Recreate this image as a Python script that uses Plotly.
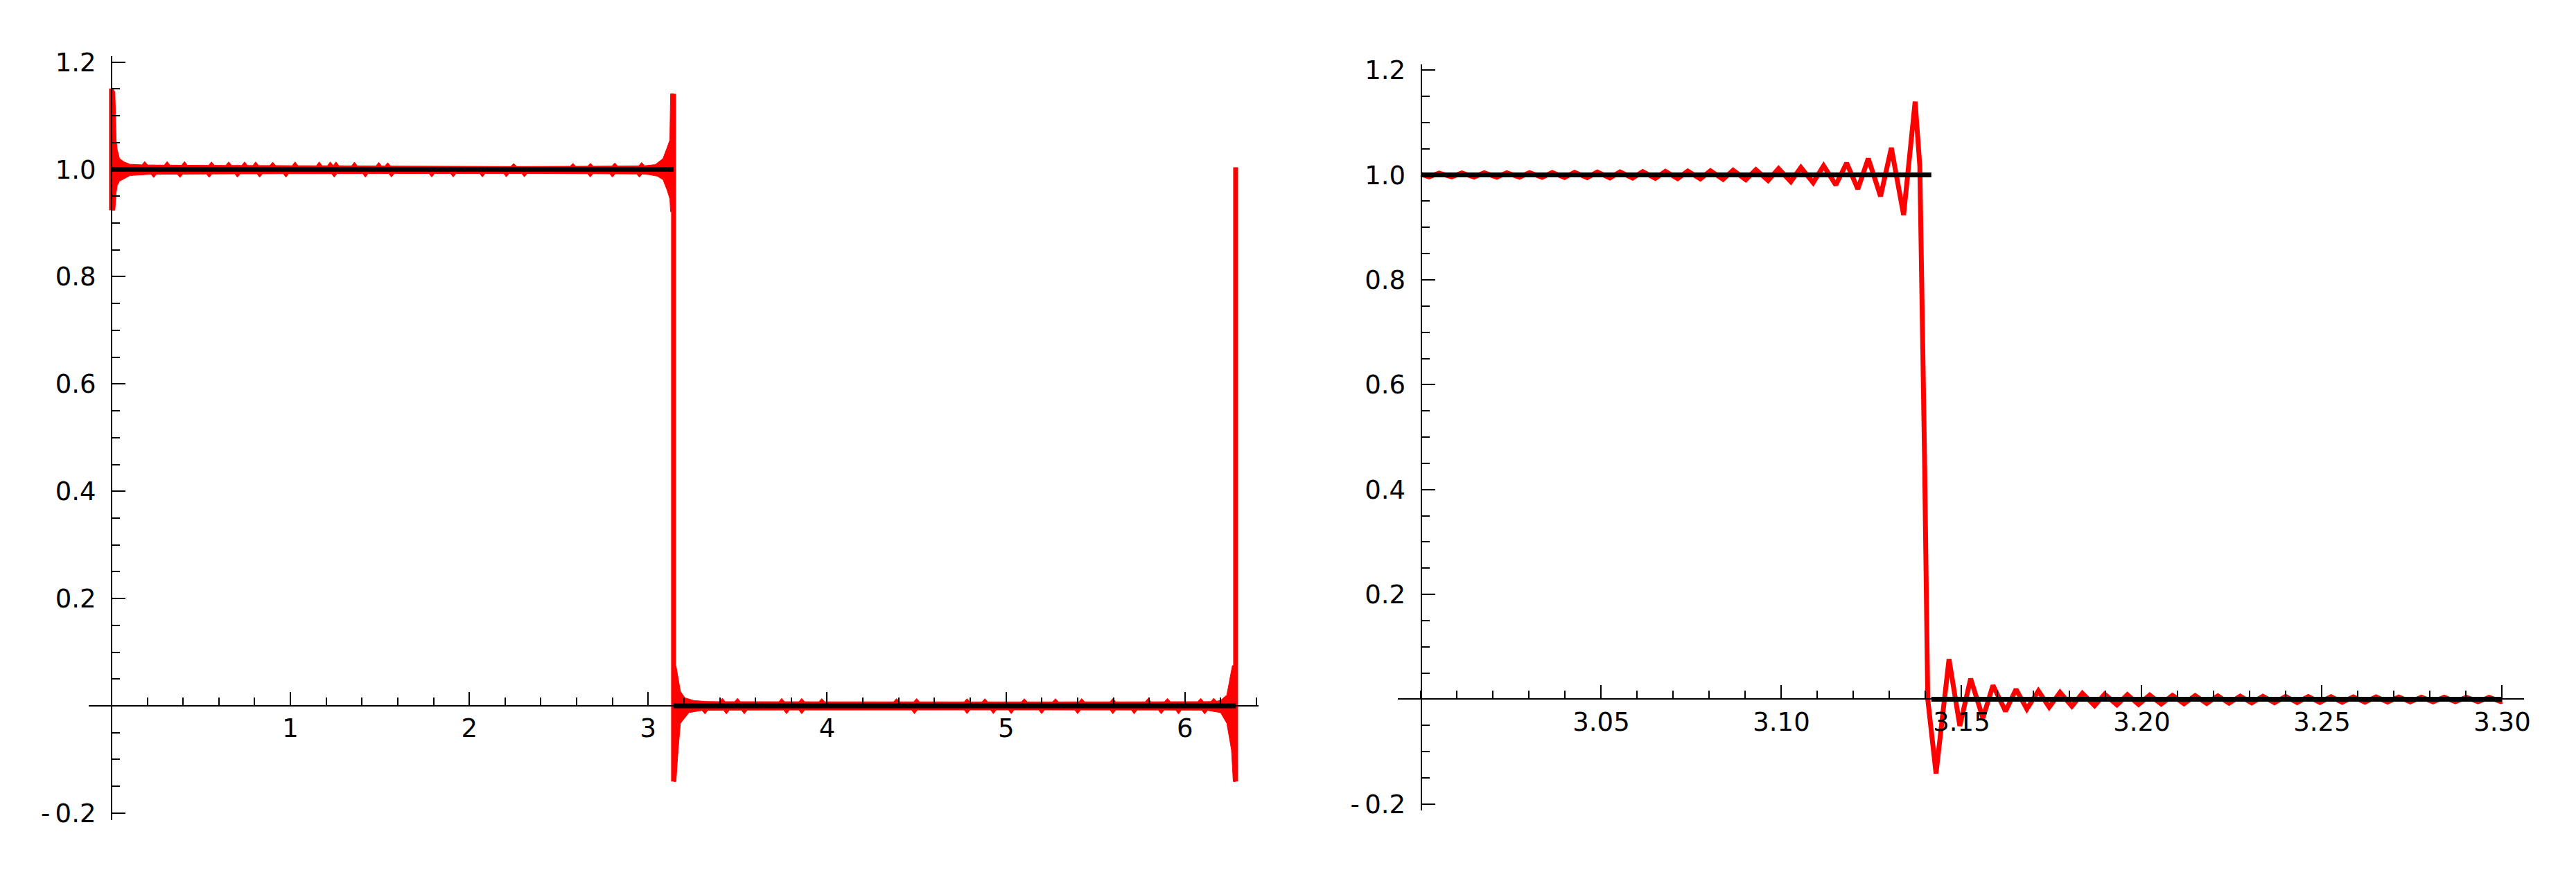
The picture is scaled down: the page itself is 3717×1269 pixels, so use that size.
import plotly.graph_objects as go

PI = 3.141592653589793
TWO_PI = 2 * PI

# ---------------- data: left panel (one full period) ----------------
# target square wave
step_x = [0.0, PI, None, PI, TWO_PI]
step_y = [1.0, 1.0, None, 0.0, 0.0]

# vertical strokes of the partial sum at the jumps (x = 0, pi, 2pi)
jump_x = [0.0, 0.0, None, PI, PI, None, TWO_PI, TWO_PI]
jump_y = [0.924, 1.151, None, 1.141, -0.141, None, 1.004, -0.141]

# band of fast ripples around y = 1 (outline: top edge left->right, bottom edge right->left)
hi_band_x = [0.000, 0.019, 0.026, 0.032, 0.045, 0.071, 0.103, 0.170, 0.186, 0.202,
             0.295, 0.311, 0.327, 0.392, 0.408, 0.424, 0.543, 0.559, 0.575, 0.639,
             0.655, 0.671, 0.728, 0.744, 0.760, 0.790, 0.806, 0.822, 0.885, 0.901,
             0.917, 1.010, 1.026, 1.042, 1.145, 1.161, 1.177, 1.207, 1.223, 1.239,
             1.255, 1.271, 1.342, 1.358, 1.374, 1.478, 1.494, 1.510, 1.528, 1.544,
             1.560, 2.232, 2.248, 2.264, 2.563, 2.579, 2.595, 2.661, 2.677, 2.693,
             2.797, 2.813, 2.829, 2.947, 2.963, 2.979, 3.040, 3.082, 3.105, 3.121,
             3.125, 3.142,
             3.142, 3.125, 3.121, 3.105, 3.082, 3.050, 3.000, 2.966, 2.951, 2.936,
             2.815, 2.800, 2.785, 2.691, 2.676, 2.661, 2.323, 2.308, 2.293, 2.222,
             2.207, 2.192, 2.088, 2.073, 2.058, 1.925, 1.910, 1.895, 1.805, 1.790,
             1.775, 1.580, 1.565, 1.550, 1.434, 1.419, 1.404, 1.260, 1.245, 1.230,
             0.990, 0.975, 0.960, 0.843, 0.828, 0.813, 0.719, 0.704, 0.689, 0.561,
             0.546, 0.531, 0.398, 0.383, 0.368, 0.251, 0.236, 0.221, 0.103, 0.071,
             0.045, 0.032, 0.026, 0.019, 0.000]
hi_band_y = [1.151, 1.145, 1.054, 1.037, 1.020, 1.014, 1.0096, 1.0085, 1.0147, 1.0083,
             1.0080, 1.0147, 1.0080, 1.0078, 1.0147, 1.0078, 1.0076, 1.0140, 1.0076, 1.0075,
             1.0140, 1.0075, 1.0074, 1.0140, 1.0074, 1.0073, 1.0140, 1.0073, 1.0072, 1.0135,
             1.0072, 1.0070, 1.0140, 1.0070, 1.0068, 1.0140, 1.0068, 1.0068, 1.0140, 1.0068,
             1.0140, 1.0068, 1.0066, 1.0135, 1.0066, 1.0064, 1.0130, 1.0064, 1.0062, 1.0125,
             1.0062, 1.0055, 1.0110, 1.0055, 1.0058, 1.0110, 1.0058, 1.0060, 1.0115, 1.0060,
             1.0062, 1.0120, 1.0062, 1.0066, 1.0130, 1.0068, 1.0090, 1.0200, 1.0400, 1.0550,
             1.1410, 1.1410,
             0.921, 0.921, 0.945, 0.962, 0.981, 0.9875, 0.9905, 0.9915, 0.9855, 0.9915,
             0.9918, 0.9858, 0.9918, 0.9920, 0.9860, 0.9920, 0.9925, 0.9862, 0.9925, 0.9925,
             0.9862, 0.9925, 0.9925, 0.9860, 0.9925, 0.9924, 0.9860, 0.9924, 0.9924, 0.9858,
             0.9924, 0.9923, 0.9858, 0.9923, 0.9922, 0.9856, 0.9922, 0.9921, 0.9856, 0.9921,
             0.9920, 0.9855, 0.9920, 0.9918, 0.9855, 0.9918, 0.9917, 0.9855, 0.9917, 0.9915,
             0.9852, 0.9915, 0.9912, 0.9850, 0.9912, 0.9910, 0.9848, 0.9910, 0.9886, 0.9830,
             0.9780, 0.9700, 0.9570, 0.9240, 0.9240]

# band of fast ripples around y = 0
lo_band_x = [3.142, 3.155, 3.180, 3.205, 3.254, 3.320, 3.398, 3.414, 3.430, 3.483,
             3.499, 3.515, 3.730, 3.746, 3.762, 3.842, 3.858, 3.874, 3.954, 3.970,
             3.986, 4.372, 4.388, 4.404, 4.484, 4.500, 4.516, 4.766, 4.782, 4.798,
             4.866, 4.882, 4.898, 5.086, 5.102, 5.118, 5.260, 5.276, 5.292, 5.407,
             5.423, 5.439, 5.581, 5.597, 5.613, 5.778, 5.794, 5.810, 5.886, 5.902,
             5.918, 6.072, 6.088, 6.104, 6.145, 6.161, 6.177, 6.199, 6.234, 6.265,
             6.283,
             6.283, 6.270, 6.260, 6.234, 6.199, 6.126, 6.110, 6.094, 5.980, 5.964,
             5.948, 5.883, 5.867, 5.851, 5.732, 5.716, 5.700, 5.613, 5.597, 5.581,
             5.416, 5.400, 5.384, 5.215, 5.199, 5.183, 5.045, 5.029, 5.013, 4.945,
             4.929, 4.913, 4.798, 4.782, 4.766, 4.504, 4.488, 4.472, 3.874, 3.858,
             3.842, 3.789, 3.773, 3.757, 3.553, 3.537, 3.521, 3.453, 3.437, 3.421,
             3.333, 3.317, 3.301, 3.228, 3.180, 3.167, 3.155, 3.142]
lo_band_y = [0.0750, 0.0750, 0.0270, 0.0150, 0.0100, 0.0082, 0.0078, 0.0140, 0.0078, 0.0078,
             0.0140, 0.0078, 0.0077, 0.0138, 0.0077, 0.0077, 0.0138, 0.0077, 0.0076, 0.0136,
             0.0076, 0.0075, 0.0135, 0.0075, 0.0075, 0.0135, 0.0075, 0.0074, 0.0134, 0.0074,
             0.0074, 0.0134, 0.0074, 0.0074, 0.0134, 0.0074, 0.0074, 0.0134, 0.0074, 0.0075,
             0.0135, 0.0075, 0.0075, 0.0136, 0.0075, 0.0076, 0.0137, 0.0076, 0.0077, 0.0138,
             0.0077, 0.0078, 0.0140, 0.0078, 0.0080, 0.0142, 0.0085, 0.0102, 0.0200, 0.0750,
             0.0750,
             -0.141, -0.141, -0.082, -0.0325, -0.0125, -0.0085, -0.0150, -0.0080, -0.0079, -0.0150,
             -0.0079, -0.0078, -0.0148, -0.0078, -0.0078, -0.0148, -0.0078, -0.0077, -0.0147, -0.0077,
             -0.0077, -0.0147, -0.0077, -0.0076, -0.0146, -0.0076, -0.0076, -0.0146, -0.0076, -0.0076,
             -0.0146, -0.0076, -0.0076, -0.0146, -0.0076, -0.0077, -0.0147, -0.0077, -0.0078, -0.0148,
             -0.0078, -0.0078, -0.0148, -0.0078, -0.0079, -0.0150, -0.0079, -0.0080, -0.0150, -0.0080,
             -0.0082, -0.0150, -0.0085, -0.0125, -0.0325, -0.0820, -0.1410, -0.1410]

# ---------------- data: right panel (zoom on the jump at pi) ----------------
zoom_step_x = [3.0, PI, None, PI, 3.30]
zoom_step_y = [1.0, 1.0, None, 0.0, 0.0]

zoom_x = [3.0000, 3.0022, 3.0050, 3.0085, 3.0113, 3.0147, 3.0175, 3.0210, 3.0238, 3.0273,
          3.0301, 3.0336, 3.0364, 3.0398, 3.0426, 3.0461, 3.0489, 3.0524, 3.0552, 3.0587,
          3.0615, 3.0650, 3.0678, 3.0712, 3.0740, 3.0775, 3.0803, 3.0838, 3.0866, 3.0901,
          3.0929, 3.0963, 3.0992, 3.1026, 3.1054, 3.1088, 3.1117, 3.1151, 3.1181, 3.1212,
          3.1241, 3.1275, 3.1305, 3.1339, 3.1371, 3.1384, 3.1397, 3.1406, 3.1429, 3.1465,
          3.1495, 3.1525, 3.1559, 3.1587, 3.1622, 3.1651, 3.1681, 3.1713, 3.1743, 3.1773,
          3.1806, 3.1835, 3.1869, 3.1897, 3.1931, 3.1960, 3.1991, 3.2022, 3.2054, 3.2085,
          3.2117, 3.2148, 3.2180, 3.2211, 3.2242, 3.2273, 3.2305, 3.2336, 3.2368, 3.2399,
          3.2431, 3.2462, 3.2494, 3.2525, 3.2556, 3.2587, 3.2619, 3.2650, 3.2682, 3.2713,
          3.2745, 3.2776, 3.2808, 3.2839, 3.2870, 3.2901, 3.2933, 3.2964, 3.2996, 3.3000]
zoom_y = [1.0015, 0.9966, 1.0036, 0.9964, 1.0038, 0.9962, 1.0040, 0.9960, 1.0042, 0.9958,
          1.0045, 0.9956, 1.0048, 0.9953, 1.0051, 0.9950, 1.0054, 0.9946, 1.0058, 0.9942,
          1.0063, 0.9937, 1.0068, 0.9932, 1.0074, 0.9926, 1.0081, 0.9919, 1.0089, 0.9910,
          1.0099, 0.9896, 1.0120, 0.9874, 1.0142, 0.9853, 1.0176, 0.9810, 1.0228, 0.9732,
          1.0315, 0.9593, 1.0518, 0.9236, 1.1400, 1.0170, 0.4650, 0.0000, -0.1417, 0.0764,
          -0.0510, 0.0392, -0.0359, 0.0263, -0.0230, 0.0190, -0.0186, 0.0160, -0.0152, 0.0130,
          -0.0134, 0.0112, -0.0121, 0.0095, -0.0108, 0.0086, -0.0100, 0.0079, -0.0092, 0.0073,
          -0.0086, 0.0068, -0.0080, 0.0063, -0.0075, 0.0059, -0.0070, 0.0055, -0.0066, 0.0052,
          -0.0063, 0.0049, -0.0060, 0.0047, -0.0057, 0.0045, -0.0055, 0.0043, -0.0053, 0.0041,
          -0.0051, 0.0039, -0.0049, 0.0037, -0.0047, 0.0036, -0.0046, 0.0035, -0.0045, -0.0040]

# ---------------- ticks ----------------
left_xtick_vals = [1, 2, 3, 4, 5, 6]
left_xtick_text = ["1", "2", "3", "4", "5", "6"]
right_xtick_vals = [3.05, 3.10, 3.15, 3.20, 3.25, 3.30]
right_xtick_text = ["3.05", "3.10", "3.15", "3.20", "3.25", "3.30"]
ytick_vals = [-0.2, 0.2, 0.4, 0.6, 0.8, 1.0, 1.2]
ytick_text = ["-\u20090.2", "0.2", "0.4", "0.6", "0.8", "1.0", "1.2"]

# ---------------- layout geometry ----------------
W, H = 3717, 1269
L_xdom, L_xr = [120 / W, 1813 / W], [-0.1286, 6.4118]
L_ydom, L_yr = [1 - 1187 / H, 1 - 62 / H], [-0.2125, 1.2115]
R_xdom, R_xr = [2014.8 / W, 3643.6 / W], [2.99363, 3.30602]
R_ydom, R_yr = [1 - 1173 / H, 1 - 74 / H], [-0.2120, 1.2115]


def pos(dom, rng, v):
    return dom[0] + (v - rng[0]) / (rng[1] - rng[0]) * (dom[1] - dom[0])


RED = "#ff0000"
FONT = dict(family="DejaVu Sans, Verdana, sans-serif", size=37, color="black")
RED_W, BLACK_W = 7, 7

fig = go.Figure()

# left panel
fig.add_trace(go.Scatter(x=hi_band_x, y=hi_band_y, mode="lines", fill="toself",
                         fillcolor=RED, line=dict(color=RED, width=1),
                         xaxis="x", yaxis="y", hoverinfo="skip"))
fig.add_trace(go.Scatter(x=lo_band_x, y=lo_band_y, mode="lines", fill="toself",
                         fillcolor=RED, line=dict(color=RED, width=1),
                         xaxis="x", yaxis="y", hoverinfo="skip"))
fig.add_trace(go.Scatter(x=jump_x, y=jump_y, mode="lines",
                         line=dict(color=RED, width=RED_W), xaxis="x", yaxis="y"))
fig.add_trace(go.Scatter(x=step_x, y=step_y, mode="lines",
                         line=dict(color="black", width=BLACK_W), xaxis="x", yaxis="y"))

# right panel
fig.add_trace(go.Scatter(x=zoom_x, y=zoom_y, mode="lines",
                         line=dict(color=RED, width=RED_W), xaxis="x2", yaxis="y2"))
fig.add_trace(go.Scatter(x=zoom_step_x, y=zoom_step_y, mode="lines",
                         line=dict(color="black", width=BLACK_W), xaxis="x2", yaxis="y2"))

axis_common = dict(showline=True, linecolor="black", linewidth=2,
                   ticks="inside", ticklen=19, tickwidth=2, tickcolor="black",
                   showgrid=False, zeroline=False, tickfont=FONT, fixedrange=True,
                   anchor="free", tickmode="array")


def minor(dtick, tick0):
    return dict(ticks="inside", ticklen=11, tickwidth=2, tickcolor="black",
                dtick=dtick, tick0=tick0, showgrid=False)


fig.update_layout(
    width=W, height=H,
    margin=dict(l=0, r=0, t=0, b=0),
    paper_bgcolor="white", plot_bgcolor="white",
    showlegend=False,
    xaxis=dict(axis_common, domain=L_xdom, range=L_xr,
               position=pos(L_ydom, L_yr, 0.0),
               tickvals=left_xtick_vals, ticktext=left_xtick_text,
               minor=minor(0.2, 0), ticklabelstandoff=0),
    yaxis=dict(axis_common, domain=L_ydom, range=L_yr,
               position=pos(L_xdom, L_xr, 0.0),
               tickvals=ytick_vals, ticktext=ytick_text,
               minor=minor(0.05, 0), ticklabelstandoff=14),
    xaxis2=dict(axis_common, domain=R_xdom, range=R_xr,
                position=pos(R_ydom, R_yr, 0.0),
                tickvals=right_xtick_vals, ticktext=right_xtick_text,
                minor=minor(0.01, 3.0), ticklabelstandoff=0),
    yaxis2=dict(axis_common, domain=R_ydom, range=R_yr,
                position=pos(R_xdom, R_xr, 3.0),
                tickvals=ytick_vals, ticktext=ytick_text,
                minor=minor(0.05, 0), ticklabelstandoff=14),
)

fig.write_html("out.html")
